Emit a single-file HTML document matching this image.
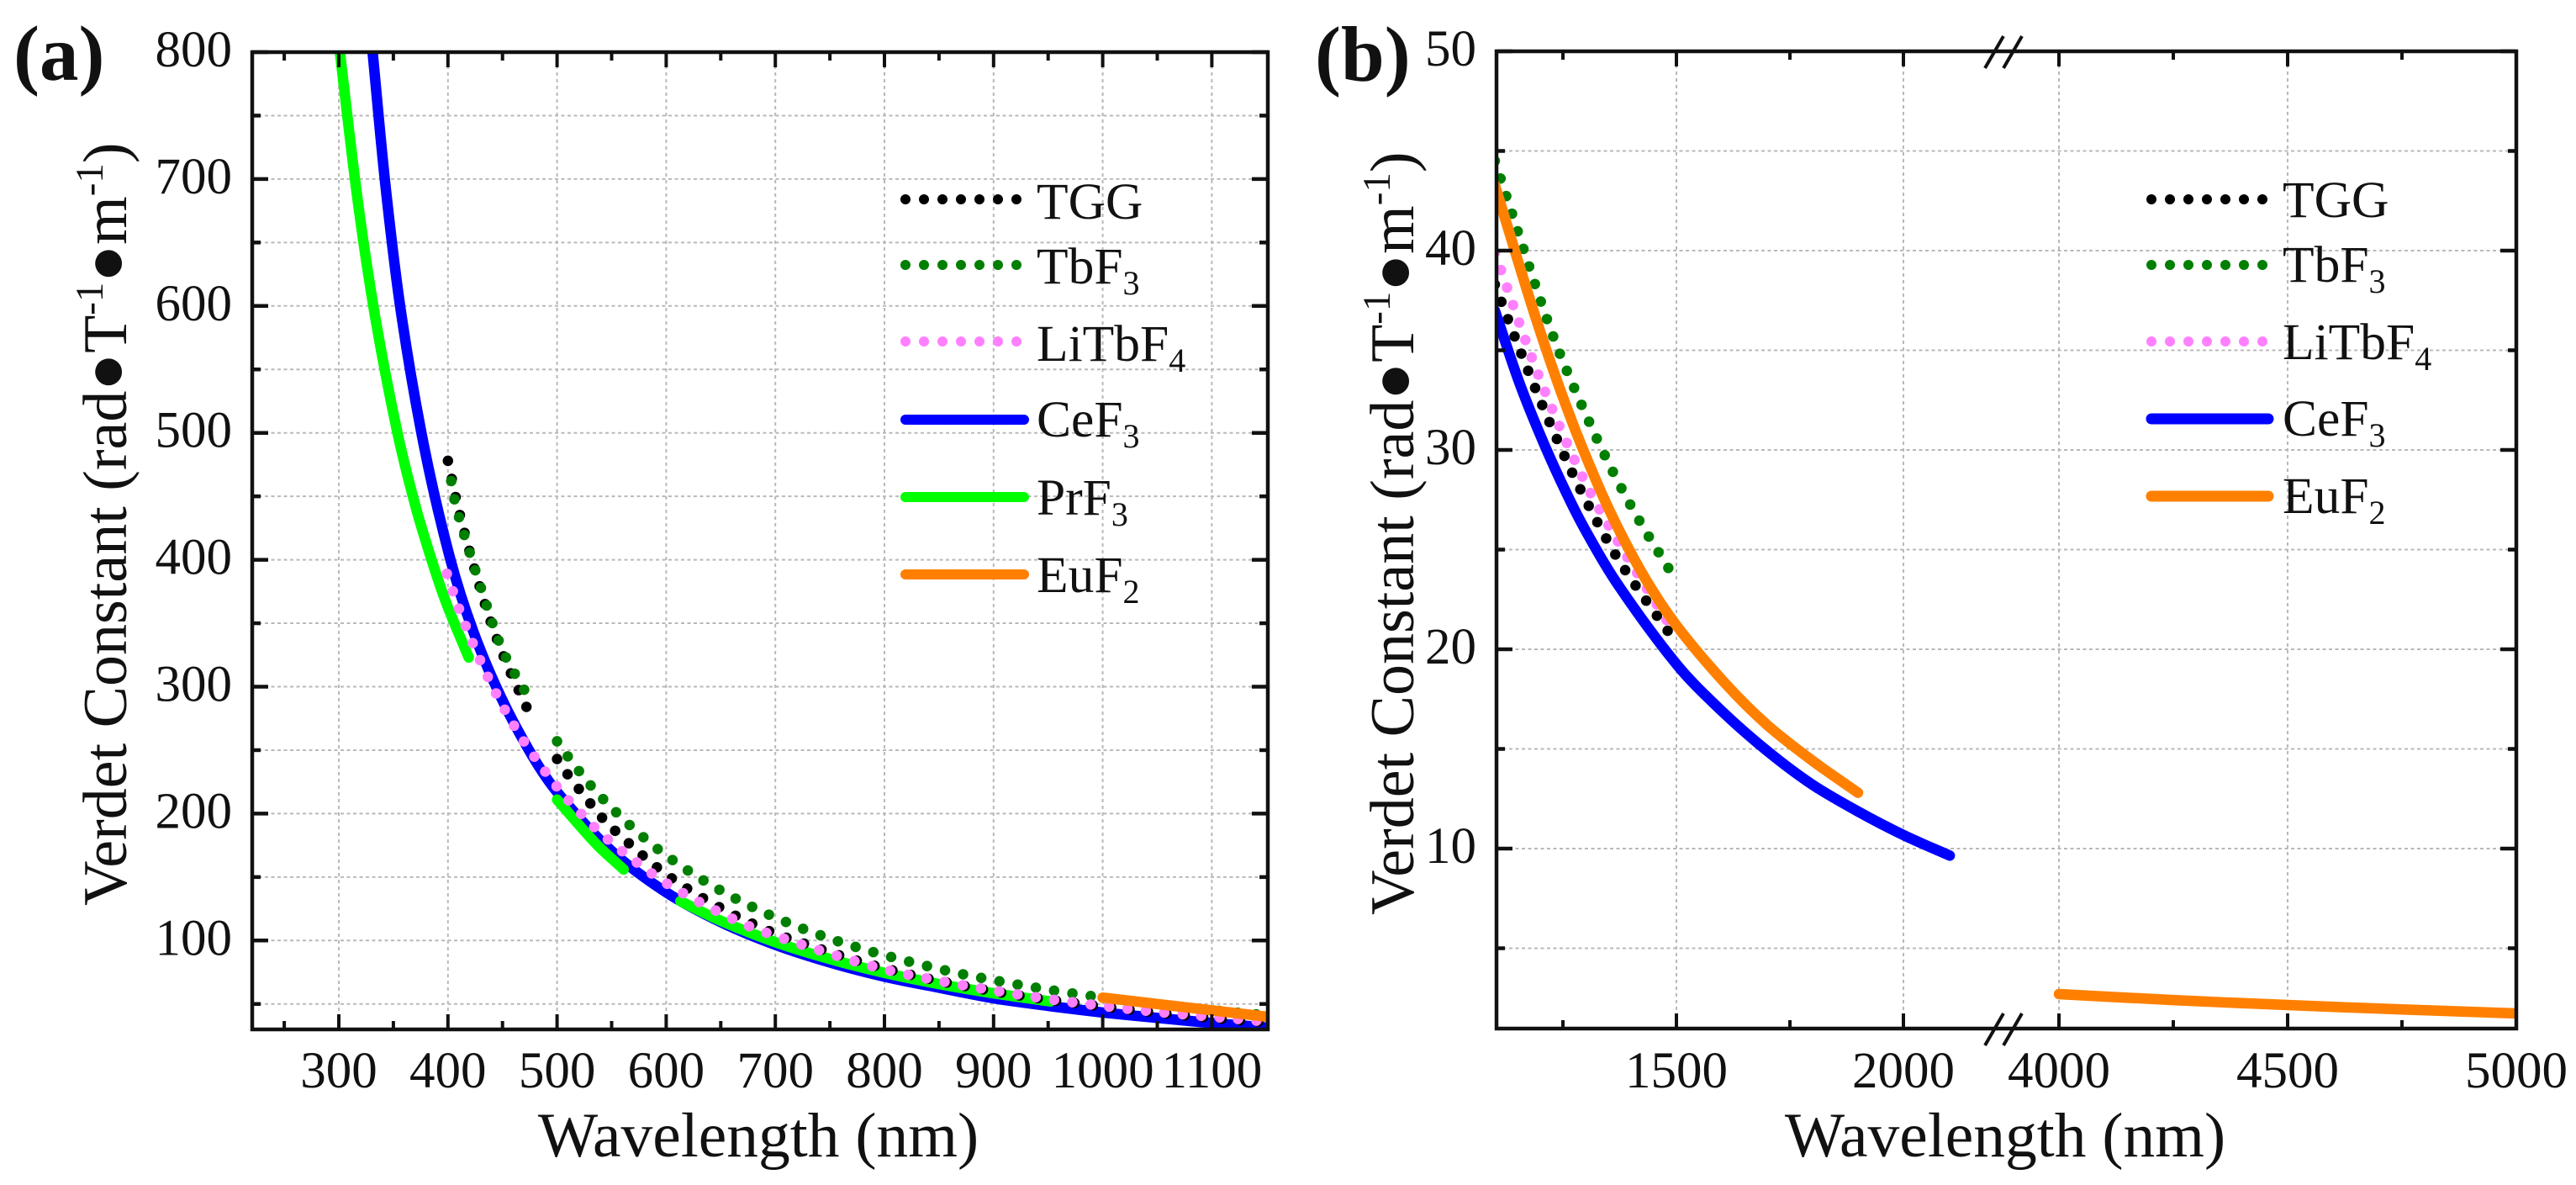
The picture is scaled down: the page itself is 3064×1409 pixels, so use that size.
<!DOCTYPE html>
<html lang="en">
<head>
<meta charset="utf-8">
<title>Verdet constant vs wavelength</title>
<style>
html,body{margin:0;padding:0;background:#fff;width:3064px;height:1409px;overflow:hidden}
svg{display:block;font-family:"Liberation Serif","DejaVu Serif",serif;fill:#111}
.leg{font-size:61.5px}
.tick{font-size:61px}
.title{font-size:74px}
.panel{font-size:93px;font-weight:bold}
</style>
</head>
<body>
<svg id="chart" xmlns="http://www.w3.org/2000/svg" width="3064" height="1409" viewBox="0 0 3064 1409">
  <defs>
    <clipPath id="clip-a"><rect x="300" y="62" width="1208" height="1162"/></clipPath>
    <clipPath id="clip-b"><rect x="1780" y="61" width="1213" height="1162"/></clipPath>
  </defs>
  <g id="panel-a"></g>
  <g id="panel-b"></g>

  <text class="panel" x="16" y="95">(a)</text>
  <text class="panel" x="1564" y="96">(b)</text>

  <text class="title" x="902" y="1375" text-anchor="middle" style="font-size:75.5px">Wavelength (nm)</text>
  <text class="title" x="2385" y="1375" text-anchor="middle" style="font-size:75.5px">Wavelength (nm)</text>

  <text class="title" transform="translate(150,1077) rotate(-90)">Verdet Constant (rad●T<tspan font-size="47" dy="-28">-1</tspan><tspan dy="28">●m</tspan><tspan font-size="47" dy="-28">-1</tspan><tspan dy="28">)</tspan></text>
  <text class="title" transform="translate(1681,1088) rotate(-90)">Verdet Constant (rad●T<tspan font-size="47" dy="-28">-1</tspan><tspan dy="28">●m</tspan><tspan font-size="47" dy="-28">-1</tspan><tspan dy="28">)</tspan></text>

  <g id="legend-a" stroke-linecap="round" fill="none">
    <line x1="1077" y1="237" x2="1212" y2="237" stroke="#000" stroke-width="12" stroke-dasharray="0 22"/>
    <line x1="1077" y1="315" x2="1212" y2="315" stroke="#007f00" stroke-width="12" stroke-dasharray="0 22"/>
    <line x1="1077" y1="406" x2="1212" y2="406" stroke="#ff80ff" stroke-width="12" stroke-dasharray="0 22"/>
    <line x1="1077" y1="499" x2="1218" y2="499" stroke="#0000ff" stroke-width="12"/>
    <line x1="1077" y1="591" x2="1218" y2="591" stroke="#00ff00" stroke-width="12"/>
    <line x1="1077" y1="683" x2="1218" y2="683" stroke="#ff8000" stroke-width="12"/>
  </g>
  <g>
    <text class="leg" x="1233" y="260">TGG</text>
    <text class="leg" x="1233" y="337">TbF<tspan font-size="40" dy="13">3</tspan></text>
    <text class="leg" x="1233" y="429">LiTbF<tspan font-size="40" dy="13">4</tspan></text>
    <text class="leg" x="1233" y="519">CeF<tspan font-size="40" dy="13">3</tspan></text>
    <text class="leg" x="1233" y="612">PrF<tspan font-size="40" dy="13">3</tspan></text>
    <text class="leg" x="1233" y="704">EuF<tspan font-size="40" dy="13">2</tspan></text>
  </g>

  <g id="legend-b" stroke-linecap="round" fill="none">
    <line x1="2559" y1="237" x2="2694" y2="237" stroke="#000" stroke-width="12" stroke-dasharray="0 22"/>
    <line x1="2559" y1="315" x2="2694" y2="315" stroke="#007f00" stroke-width="12" stroke-dasharray="0 22"/>
    <line x1="2559" y1="406" x2="2694" y2="406" stroke="#ff80ff" stroke-width="12" stroke-dasharray="0 22"/>
    <line x1="2559" y1="498" x2="2698" y2="498" stroke="#0000ff" stroke-width="13"/>
    <line x1="2559" y1="590" x2="2698" y2="590" stroke="#ff8000" stroke-width="13"/>
  </g>
  <g>
    <text class="leg" x="2715" y="258">TGG</text>
    <text class="leg" x="2715" y="335">TbF<tspan font-size="40" dy="13">3</tspan></text>
    <text class="leg" x="2715" y="427">LiTbF<tspan font-size="40" dy="13">4</tspan></text>
    <text class="leg" x="2715" y="518">CeF<tspan font-size="40" dy="13">3</tspan></text>
    <text class="leg" x="2715" y="610">EuF<tspan font-size="40" dy="13">2</tspan></text>
  </g>
</svg>
<script>
/* ---------- Panel (a) data: wavelength (nm) / Verdet constant ---------- */
var aXMajor = [300,400,500,600,700,800,900,1000,1100];
var aXMinor = [250,350,450,550,650,750,850,950,1050];
var aYMajor = [100,200,300,400,500,600,700,800];
var aYMinor = [50,150,250,350,450,550,650,750];

var aCeF3W = [331,343,357,378,402,423,449,477,500,550,600,650,700,750,800,850,900,950,1000,1050,1100,1150];
var aCeF3V = [800,693,595,490,401,344,291,246,217,170.5,138,114.5,96.6,82.7,71.5,62.8,54.5,48.5,43.3,39,35,31.5];

var aPrF3W1 = [301,317,333,353,370,385,398,419];
var aPrF3V1 = [800,685,593,503,443,400,367,323];
var aPrF3W2 = [500,536,561];
var aPrF3V2 = [211,176,156];
var aPrF3W3 = [613,650,700,750,800,850,900,952];
var aPrF3V3 = [131,115.5,98.7,85.4,74.5,65.7,58.4,52];

var aTggW1 = [400,411,434,451,473];
var aTggV1 = [478,435,365,324,282];
var aTggW2 = [500,508,540,553,590,619,648,677,711,800,900,1000,1100,1150];
var aTggV2 = [243,232.8,198,186.6,158.7,141,126.6,114,102,78,60,48,39,35.7];

var aTbW1 = [403,408,434,451,477];
var aTbV1 = [462,440,368,327,287];
var aTbW2 = [500,509,530,553,577,604,647,693,740,788,855,905,955,990,1050,1100,1150];
var aTbV2 = [257,246,223,202,183,164.5,140.8,120.8,104.6,91.3,76.6,67.9,60.6,56.2,49.7,45.1,41.1];

var aLiW1 = [399,411,423,437,452,471,500,521,546,587,615,661,692,788,855,939,990,1050,1142];
var aLiV1 = [389,359.5,333.7,307,282,255,221,200.7,180,152.7,137.5,117,106,80,67.4,55.3,49.5,43.8,36.8];

var aEuW = [1000,1050,1100,1150];
var aEuV = [55,50,45,40];

/* ---------- Panel (b) data ---------- */
var bXMajor = [1500,2000,4000,4500,5000];
var bXMinor = [1250,1750,4250,4750];
var bYMajor = [10,20,30,40,50];
var bYMinor = [5,15,25,35,45];

var bTggW = [1100,1152,1211,1276,1354,1398,1491];
var bTggV = [38.3,35.2,31.9,28.6,25.2,23.6,20.6];
var bTbW = [1100,1150,1199,1242,1306,1358,1417,1487];
var bTbV = [44.5,41,37.6,34.9,31.5,29,26.5,23.9];
var bLiW = [1100,1197,1294,1374,1483];
var bLiV = [39.9,33.7,28.6,25.3,21.3];
var bCeW = [1100,1152,1199,1246,1294,1368,1502,1600,1700,1800,1900,2000,2102];
var bCeV = [37,33.5,30.8,28.4,26.2,23.35,19.2,16.9,14.9,13.2,11.86,10.68,9.65];
var bEuW1 = [1100,1152,1199,1246,1293,1356,1430,1500,1607,1700,1800,1900];
var bEuV1 = [43.3,39.4,36,32.9,30.1,26.8,23.6,21.2,18.3,16.2,14.4,12.8];
var bEuW2 = [4000,4250,4500,4750,5000];
var bEuV2 = [2.7,2.4,2.15,1.93,1.73];

/* ---------- Axis functions ---------- */
function xA(w){return 403 + (w-300)*1.298;}
function yA(v){return 62 + (800-v)*1.509;}
function xB(w){return w<3000 ? 1778 + (w-1100)*0.54 : 2449 + (w-4000)*0.544;}
function yB(v){return 61 + (50-v)*23.7;}

var NS = 'http://www.w3.org/2000/svg';
var AXIS = '#111111';

function smoothPath(wArr, vArr, fx, fy){
  var p = [], i;
  for(i=0;i<wArr.length;i++){p.push([fx(wArr[i]),fy(vArr[i])]);}
  var d = 'M'+p[0][0].toFixed(1)+' '+p[0][1].toFixed(1);
  function dist(a,b){return Math.max(0.01,Math.hypot(a[0]-b[0],a[1]-b[1]));}
  function tan(k){
    var a = p[Math.max(0,k-1)], b = p[Math.min(p.length-1,k+1)];
    var l = dist(a,b);
    return [(b[0]-a[0])/l,(b[1]-a[1])/l];
  }
  for(i=0;i<p.length-1;i++){
    var s = dist(p[i],p[i+1])/3, t0 = tan(i), t1 = tan(i+1);
    d += 'C'+(p[i][0]+t0[0]*s).toFixed(1)+' '+(p[i][1]+t0[1]*s).toFixed(1)+' '+
         (p[i+1][0]-t1[0]*s).toFixed(1)+' '+(p[i+1][1]-t1[1]*s).toFixed(1)+' '+
         p[i+1][0].toFixed(1)+' '+p[i+1][1].toFixed(1);
  }
  return d;
}

function drawLine(parent, x1, y1, x2, y2, color, width, dash, name){
  var el = document.createElementNS(NS,'line');
  el.setAttribute('x1',x1);
  el.setAttribute('y1',y1);
  el.setAttribute('x2',x2);
  el.setAttribute('y2',y2);
  el.setAttribute('stroke',color);
  el.setAttribute('stroke-width',width);
  if(dash){el.setAttribute('stroke-dasharray',dash);}
  
  
  parent.appendChild(el);
  return el;
}

function drawText(parent, x, y, str, anchor, name){
  var el = document.createElementNS(NS,'text');
  el.setAttribute('x',x);
  el.setAttribute('y',y);
  el.setAttribute('class','tick');
  el.setAttribute('text-anchor',anchor);
  el.textContent = str;
  
  
  parent.appendChild(el);
}

function drawSeries(parent, wArr, vArr, fx, fy, color, dotted, name){
  var el = document.createElementNS(NS,'path');
  el.setAttribute('d',smoothPath(wArr,vArr,fx,fy));
  el.setAttribute('fill','none');
  el.setAttribute('stroke',color);
  el.setAttribute('stroke-linecap','round');
  el.setAttribute('stroke-linejoin','round');
  el.setAttribute('stroke-width',dotted ? 12.5 : 12.5);
  if(dotted){el.setAttribute('stroke-dasharray','0 22');}
  
  
  parent.appendChild(el);
}

function drawGrid(g, box, xMaj, yMaj, yMin, fx, fy, prefix){
  var i, x, y;
  for(i=0;i<xMaj.length;i++){
    x = fx(xMaj[i]);
    if(x < box.r-4){drawLine(g,x,box.t,x,box.b,'#b9b9b9',2,'4 4',prefix+'-grid-x');}
  }
  var ys = yMaj.concat(yMin);
  for(i=0;i<ys.length;i++){
    y = fy(ys[i]);
    if(y > box.t+4){drawLine(g,box.l,y,box.r,y,'#b9b9b9',2,'4 3.5',prefix+'-grid-y');}
  }
}

function drawFrame(g, box, xMaj, xMin, yMaj, yMin, fx, fy, prefix){
  var i, x, y;
  for(i=0;i<xMaj.length;i++){
    x = fx(xMaj[i]);
    drawLine(g,x,box.b,x,box.b-18,AXIS,4,null,prefix+'-x-tick-bottom');
    drawLine(g,x,box.t,x,box.t+18,AXIS,4,null,prefix+'-x-tick-top');
    drawText(g,x,1293,String(xMaj[i]),'middle',prefix+'-x-tick-label');
  }
  for(i=0;i<xMin.length;i++){
    x = fx(xMin[i]);
    drawLine(g,x,box.b,x,box.b-10,AXIS,4,null,prefix+'-x-minor-tick-bottom');
    drawLine(g,x,box.t,x,box.t+10,AXIS,4,null,prefix+'-x-minor-tick-top');
  }
  for(i=0;i<yMaj.length;i++){
    y = fy(yMaj[i]);
    drawLine(g,box.l,y,box.l+19,y,AXIS,4.5,null,prefix+'-y-tick-left');
    drawLine(g,box.r,y,box.r-19,y,AXIS,4.5,null,prefix+'-y-tick-right');
    drawText(g,box.l-24,y+17,String(yMaj[i]),'end',prefix+'-y-tick-label');
  }
  for(i=0;i<yMin.length;i++){
    y = fy(yMin[i]);
    drawLine(g,box.l,y,box.l+10,y,AXIS,4.5,null,prefix+'-y-minor-tick-left');
    drawLine(g,box.r,y,box.r-10,y,AXIS,4.5,null,prefix+'-y-minor-tick-right');
  }
  var rect = document.createElementNS(NS,'rect');
  rect.setAttribute('x',box.l);
  rect.setAttribute('y',box.t);
  rect.setAttribute('width',box.r-box.l);
  rect.setAttribute('height',box.b-box.t);
  rect.setAttribute('fill','none');
  rect.setAttribute('stroke',AXIS);
  rect.setAttribute('stroke-width',4.5);
  
  
  g.appendChild(rect);
}

/* ---------- Panel (a) ---------- */
var gA = document.getElementById('panel-a');
var boxA = {l:300,r:1508,t:62,b:1224};
drawGrid(gA,boxA,aXMajor,aYMajor,aYMinor,xA,yA,'a');
var sA = document.createElementNS(NS,'g');
sA.setAttribute('clip-path','url(#clip-a)');


gA.appendChild(sA);
drawSeries(sA,aCeF3W,aCeF3V,xA,yA,'#0000ff',false,'a-line-cef3');
drawSeries(sA,aPrF3W1,aPrF3V1,xA,yA,'#00ff00',false,'a-line-prf3-uv');
drawSeries(sA,aPrF3W2,aPrF3V2,xA,yA,'#00ff00',false,'a-line-prf3-blue');
drawSeries(sA,aPrF3W3,aPrF3V3,xA,yA,'#00ff00',false,'a-line-prf3-red');
drawSeries(sA,aTggW1,aTggV1,xA,yA,'#000000',true,'a-line-tgg-short');
drawSeries(sA,aTggW2,aTggV2,xA,yA,'#000000',true,'a-line-tgg-long');
drawSeries(sA,aTbW1,aTbV1,xA,yA,'#007f00',true,'a-line-tbf3-short');
drawSeries(sA,aTbW2,aTbV2,xA,yA,'#007f00',true,'a-line-tbf3-long');
drawSeries(sA,aLiW1,aLiV1,xA,yA,'#ff80ff',true,'a-line-litbf4');
drawSeries(sA,aEuW,aEuV,xA,yA,'#ff8000',false,'a-line-euf2');
drawFrame(gA,boxA,aXMajor,aXMinor,aYMajor,aYMinor,xA,yA,'a');

/* ---------- Panel (b) ---------- */
var gB = document.getElementById('panel-b');
var boxB = {l:1780,r:2993,t:61,b:1223};
drawGrid(gB,boxB,bXMajor,bYMajor,bYMinor,xB,yB,'b');
var sB = document.createElementNS(NS,'g');
sB.setAttribute('clip-path','url(#clip-b)');


gB.appendChild(sB);
drawSeries(sB,bLiW,bLiV,xB,yB,'#ff80ff',true,'b-line-litbf4');
drawSeries(sB,bTggW,bTggV,xB,yB,'#000000',true,'b-line-tgg');
drawSeries(sB,bTbW,bTbV,xB,yB,'#007f00',true,'b-line-tbf3');
drawSeries(sB,bCeW,bCeV,xB,yB,'#0000ff',false,'b-line-cef3');
drawSeries(sB,bEuW1,bEuV1,xB,yB,'#ff8000',false,'b-line-euf2-near');
drawSeries(sB,bEuW2,bEuV2,xB,yB,'#ff8000',false,'b-line-euf2-far');
drawFrame(gB,boxB,bXMajor,bXMinor,bYMajor,bYMinor,xB,yB,'b');

/* axis-break marks */
drawLine(gB,2361,1243,2383,1205,AXIS,4,null,'b-axis-break-bottom-left');
drawLine(gB,2383,1243,2405,1205,AXIS,4,null,'b-axis-break-bottom-right');
drawLine(gB,2361,81,2383,43,AXIS,4,null,'b-axis-break-top-left');
drawLine(gB,2383,81,2405,43,AXIS,4,null,'b-axis-break-top-right');
</script>
</body>
</html>
